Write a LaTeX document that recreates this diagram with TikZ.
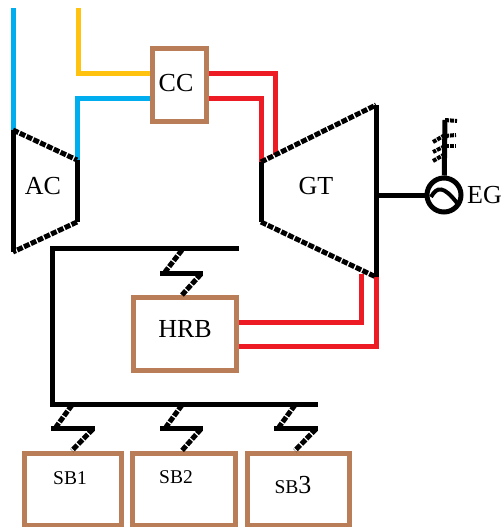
\documentclass[tikz,border=0pt]{standalone}
\usepackage{fontspec}
\setmainfont{Liberation Serif}
\usepackage{tikz}
\definecolor{airblue}{HTML}{00AEEF}
\definecolor{fuelyellow}{HTML}{FFC20E}
\definecolor{gasred}{HTML}{ED1C24}
\definecolor{boxbrown}{HTML}{B97D58}

\begin{document}
\begin{tikzpicture}[
      x=1pt, y=-1pt,
      unit/.style={draw=boxbrown, line width=5pt, fill=white, inner sep=0pt, font=\fontsize{26}{26}\selectfont},
      sbbox/.style={unit, minimum width=97pt, minimum height=72pt},
      airline/.style={draw=airblue, line width=5pt},
      fuelline/.style={draw=fuelyellow, line width=5pt},
      gasline/.style={draw=gasred, line width=5pt},
      wall/.style={draw=black, line width=5pt},
      jagged/.style={draw=black, line width=5pt, dash pattern=on 6pt off 1.5pt},
      fine/.style={draw=black, line width=4pt, dash pattern=on 4pt off 1pt},
      label/.style={inner sep=0pt, font=\fontsize{26}{26}\selectfont},
      smalllabel/.style={inner sep=0pt, font=\fontsize{19.500}{20}\selectfont}
    ]
    \useasboundingbox (0,0) rectangle (502,527);

    % free ends and corners
    \coordinate (airin) at (13,8);
    \coordinate (fuelin) at (78,8);
    \coordinate (actl) at (13,130);
    \coordinate (actr) at (77,160);
    \coordinate (acbr) at (77,222);
    \coordinate (acbl) at (13,252);
    \coordinate (gttl) at (261,162);
    \coordinate (gttr) at (376,105);
    \coordinate (gtbr) at (376,277);
    \coordinate (gtbl) at (261,222);
    \coordinate (gtin) at (275,155);
    \coordinate (gtout) at (361,274);
    \coordinate (bustop) at (239,248);
    \coordinate (buscorner) at (52,404);
    \coordinate (busend) at (318,404);
    \coordinate (keytop) at (445,120);

    % units
    \node [unit, minimum width=54pt, minimum height=72pt] (cc) at (179.500,85) {};
    \node [label] (cclabel) at (176,83) {CC};
    \node [unit, minimum width=103pt, minimum height=73pt] (hrb) at (184.500,334) {};
    \node [label] (hrblabel) at (185,329) {HRB};
    \node [sbbox] (sb1) at (73,489) {};
    \node [sbbox, minimum width=103pt] (sb2) at (184,489) {};
    \node [sbbox, minimum width=102pt] (sb3) at (298.500,489) {};
    \node [smalllabel] (sb1label) at (70,478) {SB1};
    \node [smalllabel] (sb2label) at (176,477) {SB2};
    \node [smalllabel] (sb3label) at (293,485) {SB\fontsize{26}{26}\selectfont 3};

    % air, fuel and gas lines
    \draw [airline] (airin) -- (actl);
    \draw [airline] (actr) |- ([yshift=-13pt]cc.west);
    \draw [fuelline] (fuelin) |- ([yshift=12pt]cc.west);
    \draw [gasline] ([yshift=12pt]cc.east) -| (gtin);
    \draw [gasline] ([yshift=-13pt]cc.east) -| (gttl);
    \draw [gasline] (gtout) |- ([yshift=12pt]hrb.east);
    \draw [gasline] (gtbr) |- ([yshift=-12pt]hrb.east);

    % compressor and turbine
    \draw [wall] (actl) -- (acbl);
    \draw [wall] (actr) -- (acbr);
    \draw [jagged] (actl) -- (actr);
    \draw [jagged] (acbr) -- (acbl);
    \draw [wall] (gttl) -- (gtbl);
    \draw [wall] (gttr) -- (gtbr);
    \draw [jagged] (gttl) -- (gttr);
    \draw [jagged] (gtbl) -- (gtbr);
    \node [label] (ac) at (43,186) {AC};
    \node [label] (gt) at (316,186) {GT};

    % generator
    \node [circle, draw=black, line width=5pt, fill=white, minimum size=34pt, inner sep=0pt] (gen) at (444,195) {};
    \node [label, anchor=west] (eg) at (467,195) {EG};
    \draw [wall] (gttr |- gen) -- (gen);
    \draw [wall] (keytop) -- (gen);
    \draw [fine] (keytop) -- (457,121);
    \draw [fine] (445,135) -- (433,142);
    \draw [fine] (445,146) -- (433,152);
    \draw [fine] (445,154) -- (433,161);
    \draw [fine] (445,136) -- (456,135);
    \draw [fine] (445,146) -- (456,146);
    \draw [black, line width=4pt] (431,197) .. controls (437,186) and (444,186) .. (457,203);

    % bus and links
    \draw [wall] (bustop) -| (buscorner) -- (busend);
    \draw [jagged] (182,250) -- (165,272);
    \draw [wall] (160,273) -- (203,273);
    \draw [jagged] (201,274) -- (hrb.north -| 182,0);
    \draw [jagged] (72,405) -- (56,427);
    \draw [wall] (51,428) -- (95,428);
    \draw [jagged] (93,429) -- (sb1.north -| 72,0);
    \draw [jagged] (182,405) -- (166,427);
    \draw [wall] (160,428) -- (203,428);
    \draw [jagged] (201,429) -- (sb2.north -| 182,0);
    \draw [jagged] (295,405) -- (279,427);
    \draw [wall] (274,428) -- (318,428);
    \draw [jagged] (316,429) -- (sb3.north -| 295,0);
    \end{tikzpicture}
\end{document}
